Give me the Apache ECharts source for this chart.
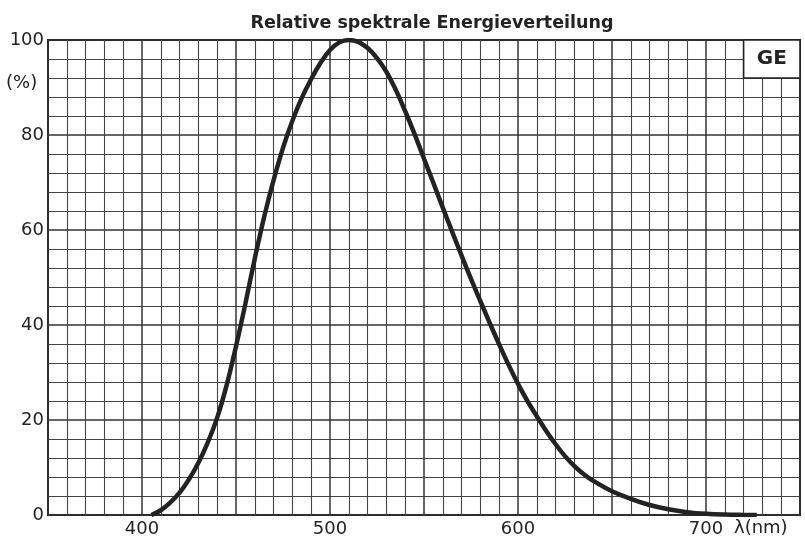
<!DOCTYPE html>
<html lang="de">
<head>
    <meta charset="UTF-8">
    <title>Relative spektrale Energieverteilung</title>
    <script src="https://cdn.jsdelivr.net/npm/echarts@6/dist/echarts.min.js"></script>
    <style type="text/css">
        *{margin: 0;padding: 0;border: none}
        html,body{width: 100%;height: 100%;overflow: hidden;background: #fff}
        #main{width: 805px;height: 541px}
    </style>
</head>
<body>
<div id="main"></div>
<script type="text/javascript">
    // Wellenlänge (nm) und relative Energie (%)
    var wl  = [405, 410, 415, 420, 425, 430, 435, 440, 445, 450, 455, 460, 465, 470, 475, 480, 485, 490, 495, 500,
               505, 510, 515, 520, 525, 530, 535, 540, 545, 550, 555, 560, 565, 570, 575, 580, 585, 590, 595, 600,
               605, 610, 615, 620, 625, 630, 635, 640, 650, 660, 670, 680, 690, 700, 710, 720, 727];
    var rel = [0, 1.0, 2.6, 4.7, 7.5, 11.0, 15.3, 20.5, 27.3, 35.5, 44.5, 54, 62.8, 70.5, 77.3, 83, 87.8, 91.8, 95.2, 97.9,
               99.5, 100, 99.6, 98.3, 96.2, 93.3, 89.5, 85, 80.2, 75, 69.9, 64.7, 59.6, 54.6, 49.7, 45, 40.4, 35.9, 31.6, 27.6,
               24, 20.8, 17.7, 14.9, 12.4, 10.3, 8.6, 7.2, 5, 3.4, 2.1, 1.2, 0.6, 0.25, 0.08, 0.02, 0];
    var xLabels = [400, 500, 600, 700];
    var yLabels = [0, 20, 40, 60, 80, 100];

    var pts = [];
    for (var i = 0; i < wl.length; i++) {
        pts.push([wl[i], rel[i]]);
    }

    var ink = '#232323';
    var font = '"DejaVu Sans", sans-serif';

    var myChart = echarts.init(document.getElementById('main'));
    var option = {
        backgroundColor: '#fff',
        animation: false,
        title: {
            text: 'Relative spektrale Energieverteilung',
            left: 427,
            top: 9,
            textAlign: 'center',
            textStyle: {fontFamily: font, fontWeight: 'bold', fontSize: 17.5, color: ink}
        },
        grid: {
            left: 48,
            right: 5,
            top: 40,
            bottom: 26,
            show: true,
            borderColor: ink,
            borderWidth: 2
        },
        xAxis: {
            type: 'value',
            min: 350,
            max: 750,
            interval: 50,
            axisLine: {show: false},
            axisTick: {show: false},
            axisLabel: {
                margin: 5,
                fontFamily: font,
                fontSize: 18,
                color: ink,
                formatter: function (v) {
                    return xLabels.indexOf(v) >= 0 ? String(v) : '';
                }
            },
            splitLine: {show: true, lineStyle: {color: '#333', width: 1.5}},
            minorTick: {show: false, splitNumber: 5},
            minorSplitLine: {show: true, lineStyle: {color: '#444', width: 1.1}}
        },
        yAxis: {
            type: 'value',
            min: 0,
            max: 100,
            interval: 20,
            axisLine: {show: false},
            axisTick: {show: false},
            axisLabel: {
                margin: 4,
                fontFamily: font,
                fontSize: 18,
                color: ink,
                formatter: function (v) {
                    return yLabels.indexOf(v) >= 0 ? String(v) : '';
                }
            },
            splitLine: {show: true, lineStyle: {color: '#333', width: 1.5}},
            minorTick: {show: false, splitNumber: 5},
            minorSplitLine: {show: true, lineStyle: {color: '#444', width: 1.1}}
        },
        graphic: [
            {
                type: 'text',
                left: 6,
                top: 74,
                style: {text: '(%)', font: '18px ' + font, fill: ink}
            },
            {
                type: 'text',
                left: 734,
                top: 519,
                style: {text: 'λ(nm)', font: '18px ' + font, fill: ink}
            }
        ],
        series: [
            {
                type: 'line',
                data: pts,
                smooth: 0.4,
                showSymbol: false,
                lineStyle: {color: ink, width: 4.5},
                markArea: {
                    silent: true,
                    itemStyle: {color: '#fff', opacity: 1, borderColor: ink, borderWidth: 1.6},
                    label: {
                        show: true,
                        position: 'inside',
                        fontFamily: font,
                        fontWeight: 'bold',
                        fontSize: 20,
                        color: ink
                    },
                    data: [[{name: 'GE', xAxis: 720, yAxis: 92}, {xAxis: 750, yAxis: 100}]]
                }
            }
        ]
    };
    myChart.setOption(option);
</script>
</body>
</html>
